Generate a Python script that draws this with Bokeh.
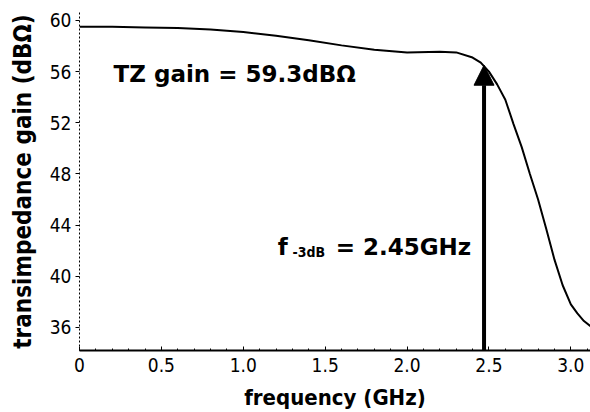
from bokeh.plotting import figure
from bokeh.models import Range1d, FixedTicker, Label, Arrow, NormalHead
from bokeh.embed import file_html
from bokeh.resources import INLINE

freq = [0, 0.2, 0.4, 0.6, 0.8, 1.0, 1.2, 1.4, 1.6, 1.8, 2.0, 2.2, 2.3, 2.4, 2.45,
        2.5, 2.55, 2.6, 2.65, 2.7, 2.75, 2.8, 2.85, 2.9, 2.95, 3.0, 3.04, 3.08, 3.12]
gain = [59.5, 59.5, 59.45, 59.4, 59.3, 59.1, 58.8, 58.45, 58.05, 57.7, 57.5, 57.55, 57.5, 57.1, 56.7,
        56.0, 55.0, 53.8, 51.9, 50.1, 48.0, 46.0, 43.7, 41.3, 39.3, 37.8, 37.1, 36.5, 36.1]
x_ticks = [0, 0.5, 1.0, 1.5, 2.0, 2.5, 3.0]
x_tick_labels = ["0", "0.5", "1.0", "1.5", "2.0", "2.5", "3.0"]
y_ticks = [36, 40, 44, 48, 52, 56, 60]
f3db = 2.47
f3db_gain = 56.5
y_floor = 34.2

NARROW = "DejaVu Sans Condensed"
BOLD = "DejaVu Sans"

p = figure(width=590, height=412, output_backend="svg", toolbar_location=None,
           x_range=Range1d(0, 3.12), y_range=Range1d(y_floor, 60.62),
           min_border_left=79, min_border_top=12, min_border_right=0, min_border_bottom=61)
p.outline_line_color = None
p.xgrid.visible = False
p.ygrid.visible = False
p.background_fill_color = "white"

p.line(freq, gain, line_color="black", line_width=2)

p.add_layout(Arrow(end=NormalHead(size=20, fill_color="black", line_color="black"),
                   x_start=f3db, y_start=y_floor, x_end=f3db, y_end=f3db_gain,
                   line_width=4, line_color="black"))

p.xaxis.ticker = FixedTicker(ticks=x_ticks, minor_ticks=[i / 10 for i in range(0, 32)])
p.xaxis.major_label_overrides = {t: l for t, l in zip(x_ticks, x_tick_labels)}
p.yaxis.ticker = FixedTicker(ticks=y_ticks, minor_ticks=[])

for ax in (p.xaxis[0], p.yaxis[0]):
    ax.major_label_text_font = NARROW
    ax.major_label_text_font_size = "19px"
    ax.major_label_text_color = "black"
    ax.axis_label_text_font = NARROW
    ax.axis_label_text_font_style = "bold"
    ax.axis_label_text_color = "black"
    ax.axis_line_color = "black"
    ax.major_tick_line_color = "black"
    ax.minor_tick_line_color = "black"

p.xaxis.axis_label = "frequency (GHz)"
p.xaxis.axis_label_text_font_size = "22px"
p.xaxis.axis_line_width = 2
p.xaxis.major_tick_in = 4
p.xaxis.major_tick_out = 0
p.xaxis.minor_tick_in = 2
p.xaxis.minor_tick_out = 0
p.xaxis.major_label_standoff = 7
p.xaxis.axis_label_standoff = 10

p.yaxis.axis_label = "transimpedance gain (dBΩ)"
p.yaxis.axis_label_text_font_size = "24px"
p.yaxis.axis_line_width = 1
p.yaxis.axis_line_dash = "2 2"
p.yaxis.major_tick_in = 0
p.yaxis.major_tick_out = 4
p.yaxis.major_label_standoff = 4
p.yaxis.axis_label_standoff = 10

p.add_layout(Label(x=0.208, y=55.8, text="TZ gain = 59.3dBΩ", text_font=BOLD,
                   text_font_style="bold", text_font_size="23px", text_color="black",
                   text_baseline="alphabetic"))
p.add_layout(Label(x=1.21, y=42.3, text="f", text_font=BOLD,
                   text_font_style="bold", text_font_size="23px", text_color="black",
                   text_baseline="alphabetic"))
p.add_layout(Label(x=1.30, y=41.9, text="-3dB", text_font=NARROW,
                   text_font_style="bold", text_font_size="14px", text_color="black",
                   text_baseline="alphabetic"))
p.add_layout(Label(x=1.564, y=42.3, text="= 2.45GHz", text_font=BOLD,
                   text_font_style="bold", text_font_size="23px", text_color="black",
                   text_baseline="alphabetic"))

open("out.html", "w").write(file_html(p, INLINE))
